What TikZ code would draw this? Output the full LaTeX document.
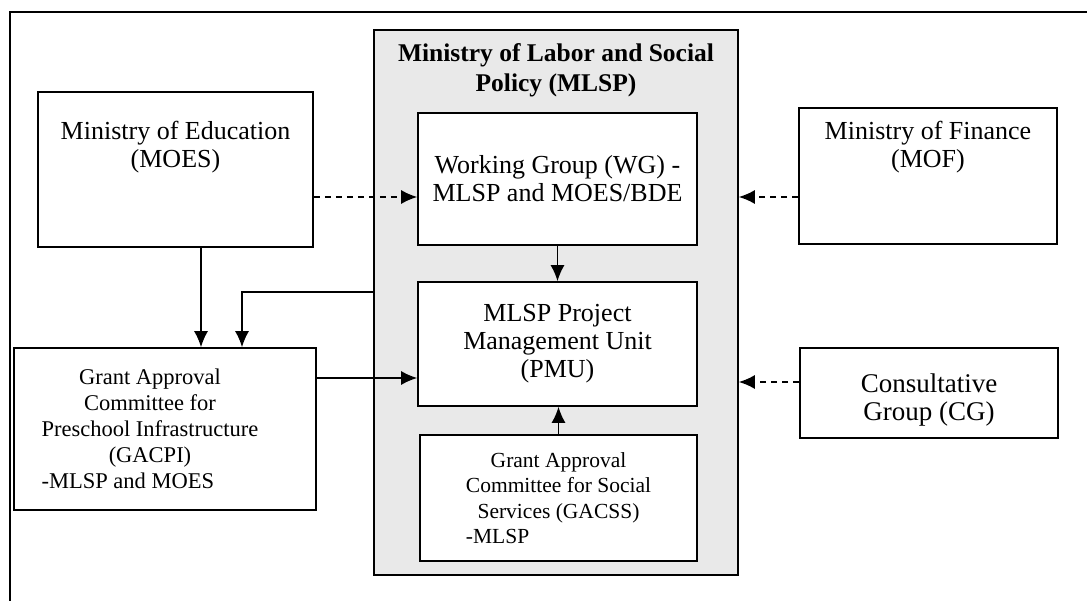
\documentclass[tikz,border=0pt]{standalone}
\usepackage{fontspec}
\setmainfont{Liberation Serif}
\usetikzlibrary{arrows.meta}

\begin{document}
\begin{tikzpicture}[x=1pt,y=-1pt,
  box/.style={draw, line width=1.6pt, inner sep=0pt, align=center},
  txt/.style={align=center, font=\fontsize{26}{28}\selectfont},
  small/.style={align=center, font=\fontsize{22.5}{26}\selectfont},
  arr/.style={-{Latex[length=16pt,width=14pt]}, line width=1.6pt},
  dashline/.style={dash pattern=on 6pt off 5pt}]
\useasboundingbox (0,0) rectangle (1087,601);
\draw[line width=1.8pt] (10,601)--(10,12)--(1087,12);
\node[box, fill=gray!17, minimum width=364pt, minimum height=545pt] (mlsp) at (556,302.5) {};
\node[txt, font=\fontsize{25.5}{30}\selectfont\bfseries] (title) at (556,70) {Ministry of Labor and Social\\Policy (MLSP)};
\node[box, txt, fill=white, minimum width=279pt, minimum height=132pt] (wg) at (557.5,179) {Working Group (WG) -\\MLSP and MOES/BDE};
\node[box, txt, fill=white, minimum width=279pt, minimum height=124pt] (pmu) at (557.5,344) {MLSP Project\\Management Unit\\(PMU)};
\node[box, small, fill=white, minimum width=277pt, minimum height=126pt, font=\fontsize{21.5}{25.5}\selectfont] (gacss) at (558.5,498) {Grant Approval\\Committee for Social\\Services (GACSS)\\\rlap{-MLSP}\phantom{Committee for Social}};
\node[box, minimum width=275pt, minimum height=155pt] (moes) at (175.5,169.5) {};
\node[txt] (moest) at (175.5,147.5) {Ministry of Education\\(MOES)};
\node[box, minimum width=258pt, minimum height=136pt] (mof) at (928,176) {};
\node[txt] (moft) at (928,147.5) {Ministry of Finance\\(MOF)};
\node[box, minimum width=302pt, minimum height=162pt] (gacpi) at (165,429) {};
\node[small] (gacpit) at (150,429) {Grant Approval\\Committee for\\Preschool Infrastructure\\(GACPI)\\\rlap{-MLSP and MOES}\phantom{Preschool Infrastructure}};
\node[box, minimum width=258pt, minimum height=90pt] (cg) at (929,393) {};
\node[txt, font=\fontsize{27}{28}\selectfont] (cgt) at (929,400) {Consultative\\Group (CG)};
\coordinate (bend) at (242,292);
\draw[arr, dashline] (moes.east |- 0,197) -- (wg.west |- 0,197);
\draw[arr, dashline] (mof.west |- 0,197) -- (mlsp.east |- 0,197);
\draw[arr, dashline] (cg.west |- 0,382) -- (mlsp.east |- 0,382);
\draw[arr] (201,0 |- moes.south) -- (201,0 |- gacpi.north);
\draw[arr] (mlsp.west |- bend) -- (bend) -- (bend |- gacpi.north);
\draw[arr] (gacpi.east |- 0,378) -- (pmu.west |- 0,378);
\draw[arr] (wg.south) -- (pmu.north);
\draw[arr] (gacss.north) -- (gacss.north |- pmu.south);
\end{tikzpicture}
\end{document}
